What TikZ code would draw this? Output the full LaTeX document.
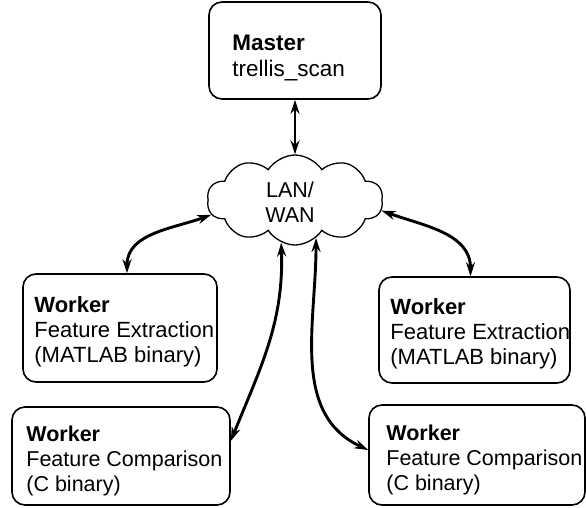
\documentclass[tikz,border=0pt]{standalone}
\usepackage{fontspec}
\setmainfont{Liberation Sans}
\usetikzlibrary{shapes.symbols,arrows.meta}

\tikzset{
  box/.style={draw, line width=1.6pt, rounded corners=13pt, inner sep=0pt},
  txt/.style={align=left, inner sep=0pt, anchor=west,
    font=\fontsize{22}{25}\selectfont},
  txtnarrow/.style={txt, font=\fontsize{21.5}{25}\selectfont},
  net/.style={cloud, draw, line width=1.3pt, cloud puffs=10, cloud puff arc=115,
    aspect=2, inner sep=0pt},
  conn/.style={line width=2.9pt,
    {Stealth[length=14pt,width=9pt]}-{Stealth[length=14pt,width=9pt]}},
}

\begin{document}
\begin{tikzpicture}[x=1pt, y=-1pt]
  \useasboundingbox (0,0) rectangle (586,507);

  % master process
  \node[box, minimum width=172pt, minimum height=97pt] (master) at (295,50.5) {};
  \node[txt, font=\fontsize{22.5}{26}\selectfont] (mastert)
    at ([xshift=24pt, yshift=-7pt]master.west)
    {\textbf{Master}\\trellis\_scan};

  % network cloud
  \node[net, minimum width=176pt, minimum height=90pt] (lan) at (295,200) {};
  \node[align=center, inner sep=0pt, font=\fontsize{21.5}{25}\selectfont]
    (lant) at (290,202) {LAN/\\WAN};

  % workers
  \node[box, minimum width=194pt, minimum height=108pt] (fe1) at (120,328) {};
  \node[txt] (fe1t) at ([xshift=12pt, yshift=-4pt]fe1.west)
    {\textbf{Worker}\\Feature Extraction\\(MATLAB binary)};

  \node[box, minimum width=191pt, minimum height=106pt] (fe2) at (474.5,330) {};
  \node[txt] (fe2t) at ([xshift=12pt, yshift=-4pt]fe2.west)
    {\textbf{Worker}\\Feature Extraction\\(MATLAB binary)};

  \node[box, minimum width=218pt, minimum height=98pt] (fc1) at (121,456) {};
  \node[txtnarrow] (fc1t) at ([xshift=15pt, yshift=-5pt]fc1.west)
    {\textbf{Worker}\\Feature Comparison\\(C binary)};

  \node[box, minimum width=216pt, minimum height=100pt] (fc2) at (477,455) {};
  \node[txtnarrow] (fc2t) at ([xshift=18pt, yshift=-5pt]fc2.west)
    {\textbf{Worker}\\Feature Comparison\\(C binary)};

  % connections
  \draw[conn] (master.south) -- (lan.north);
  \draw[conn] (lan.190) to[out=200, in=90] ([xshift=7pt]fe1.north);
  \draw[conn] (lan.353) to[out=-20, in=90] ([xshift=-4pt]fe2.north);
  \draw[conn] (lan.252) to[out=-88, in=68] ([yshift=15pt]fc1.east);
  \draw[conn] (lan.299) to[out=-90, in=155] ([yshift=5pt]fc2.west);
\end{tikzpicture}
\end{document}
